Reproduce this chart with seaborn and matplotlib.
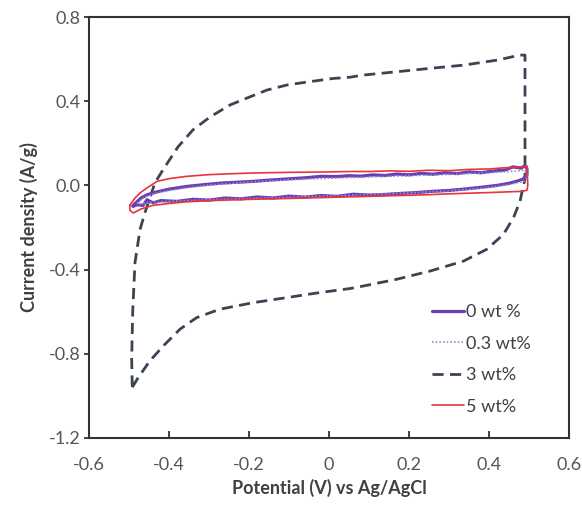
import matplotlib
matplotlib.use("Agg")
import matplotlib.pyplot as plt
import seaborn as sns
import pandas as pd

# ---- data ----
labels = ["0 wt %", "0.3 wt%", "3 wt%", "5 wt%"]

# 0 wt% (noisy purple loop)
x0 = [-0.49, -0.47, -0.455, -0.44, -0.40, -0.356, -0.31, -0.27, -0.23, -0.19, -0.15, -0.11,
      -0.06, -0.02, 0.02, 0.05, 0.08, 0.11, 0.14, 0.17, 0.20, 0.23, 0.26, 0.29, 0.32,
      0.35, 0.38, 0.41, 0.44, 0.46, 0.48, 0.49, 0.495,
      0.495, 0.485, 0.47, 0.45, 0.42, 0.38, 0.34, 0.30, 0.26, 0.22, 0.18, 0.14, 0.10,
      0.06, 0.02, -0.02, -0.06, -0.10, -0.14, -0.18, -0.22, -0.26, -0.30, -0.34, -0.38,
      -0.42, -0.44, -0.455, -0.465, -0.48, -0.49]
y0 = [-0.095, -0.060, -0.045, -0.035, -0.018, -0.005, 0.004, 0.011, 0.015, 0.019, 0.025, 0.030,
      0.036, 0.043, 0.042, 0.046, 0.044, 0.050, 0.047, 0.054, 0.050, 0.057, 0.053, 0.060, 0.056,
      0.064, 0.060, 0.068, 0.073, 0.088, 0.082, 0.094, 0.080,
      0.050, 0.030, 0.020, 0.010, 0.000, -0.009, -0.017, -0.024, -0.028, -0.034, -0.038,
      -0.043, -0.046, -0.042, -0.052, -0.048, -0.056, -0.051, -0.060, -0.055, -0.064,
      -0.060, -0.070, -0.066, -0.076, -0.072, -0.083, -0.068, -0.095, -0.092, -0.100]

# 0.3 wt% (dotted loop)
x03 = [-0.48, -0.46, -0.43, -0.40, -0.35, -0.30, -0.20, -0.10, 0.00, 0.10, 0.20, 0.30,
       0.40, 0.45, 0.49, 0.495,
       0.49, 0.45, 0.40, 0.30, 0.20, 0.10, 0.00, -0.10, -0.20, -0.30, -0.40, -0.45, -0.48]
y03 = [-0.085, -0.055, -0.036, -0.024, -0.010, 0.002, 0.016, 0.027, 0.034, 0.040, 0.046, 0.052,
       0.060, 0.066, 0.072, 0.045,
       0.020, 0.004, -0.010, -0.026, -0.036, -0.043, -0.050, -0.056, -0.062, -0.068, -0.076,
       -0.083, -0.090]

# 3 wt% (dashed loop)
x3 = [-0.4918, -0.4767, -0.4475, -0.414, -0.3725, -0.3308, -0.2725, -0.189, -0.1058,
      -0.0225, 0.0525, 0.0858, 0.169, 0.2525, 0.3358, 0.394, 0.436, 0.461, 0.4775, 0.485,
      0.490, 0.490,
      0.4775, 0.42, 0.335, 0.2525, 0.17, 0.085, 0.0525, 0.01, -0.055, -0.105, -0.155,
      -0.205, -0.2475, -0.2975, -0.34, -0.3775, -0.415, -0.435, -0.46, -0.4725, -0.485,
      -0.4908, -0.4933, -0.4918]
y3 = [-0.959, -0.912, -0.833, -0.762, -0.683, -0.628, -0.588, -0.557, -0.533,
      -0.509, -0.490, -0.478, -0.446, -0.407, -0.360, -0.304, -0.233, -0.154, -0.076, -0.010,
      0.030, 0.619,
      0.619, 0.595, 0.571, 0.556, 0.540, 0.524, 0.514, 0.508, 0.491, 0.477, 0.453,
      0.415, 0.382, 0.325, 0.264, 0.183, 0.074, 0.013, -0.129, -0.210, -0.366,
      -0.602, -0.825, -0.959]

# 5 wt% (red loop)
x5 = [-0.4975, -0.485, -0.4725, -0.455, -0.43, -0.40, -0.356, -0.30, -0.25, -0.19, -0.10,
      0.00, 0.0525, 0.10, 0.15, 0.20, 0.25, 0.30, 0.35, 0.40, 0.44, 0.47, 0.495, 0.497, 0.495,
      0.485, 0.40, 0.30, 0.2525, 0.20, 0.10, 0.00, -0.10, -0.19, -0.28, -0.356, -0.40,
      -0.44, -0.47, -0.489, -0.498, -0.4975]
y5 = [-0.092, -0.060, -0.036, -0.012, 0.019, 0.032, 0.043, 0.051, 0.055, 0.059, 0.062,
      0.064, 0.066, 0.066, 0.069, 0.067, 0.072, 0.070, 0.076, 0.078, 0.084, 0.086, 0.092, 0.000,
      -0.022, -0.028, -0.034, -0.040, -0.044, -0.047, -0.052, -0.057, -0.062, -0.066, -0.071,
      -0.078, -0.086, -0.095, -0.112, -0.131, -0.118, -0.092]

xticks = [-0.6, -0.4, -0.2, 0.0, 0.2, 0.4, 0.6]
xticklabels = ["-0.6", "-0.4", "-0.2", "0", "0.2", "0.4", "0.6"]
yticks = [0.8, 0.4, 0.0, -0.4, -0.8, -1.2]
yticklabels = ["0.8", "0.4", "0.0", "-0.4", "-0.8", "-1.2"]

# ---- plot ----
sns.set_theme(style="white")
plt.rcParams["font.family"] = ["Lato", "DejaVu Sans"]

fig = plt.figure(figsize=(5.82, 5.08), dpi=100)
ax = fig.add_axes([89 / 582, 1 - 438 / 508, 480 / 582, 421 / 508])

styles = [
    dict(color="#6a3db5", lw=2.3, ls="-"),
    dict(color="#9a8cc8", lw=1.2, ls=(0, (1, 1.2))),
    dict(color="#3a4553", lw=2.0, ls=(0, (4.0, 2.3))),
    dict(color="#e8343c", lw=1.2, ls="-"),
]
series = [(x0, y0), (x03, y03), (x3, y3), (x5, y5)]
order = [2, 0, 1, 3]
for i in order:
    xs, ys = series[i]
    df = pd.DataFrame({"x": xs, "y": ys})
    sns.lineplot(data=df, x="x", y="y", sort=False, estimator=None, ax=ax,
                 label=labels[i], **styles[i])

ax.set_xlim(-0.6, 0.6)
ax.set_ylim(-1.2, 0.8)
ax.set_xticks(xticks)
ax.set_xticklabels(xticklabels)
ax.set_yticks(yticks)
ax.set_yticklabels(yticklabels)

for s in ax.spines.values():
    s.set_color("#333333")
    s.set_linewidth(1.5)
    s.set_visible(True)

ax.tick_params(axis="x", direction="in", length=5, width=1.3, color="#333333",
               labelsize=13, labelcolor="#555555", pad=14, bottom=True)
ax.tick_params(axis="y", direction="out", length=3.5, width=1.3, color="#333333",
               labelsize=13, labelcolor="#555555", left=True, pad=2.5)

ax.set_xlabel("Potential (V) vs Ag/AgCl", fontsize=13, fontweight="bold",
              color="#404040", labelpad=4)
ax.set_ylabel("Current density (A/g)", fontsize=13, fontweight="bold",
              color="#404040", labelpad=8)

handles, labs = ax.get_legend_handles_labels()
hmap = dict(zip(labs, handles))
leg = ax.legend([hmap[l] for l in labels], labels, loc="upper left",
                bbox_to_anchor=(0.714, 0.318), frameon=False, fontsize=13,
                handlelength=1.8, handletextpad=0.1, labelspacing=0.86,
                borderpad=0, borderaxespad=0)
for t in leg.get_texts():
    t.set_color("#404040")

fig.savefig("out.png", dpi=100)
